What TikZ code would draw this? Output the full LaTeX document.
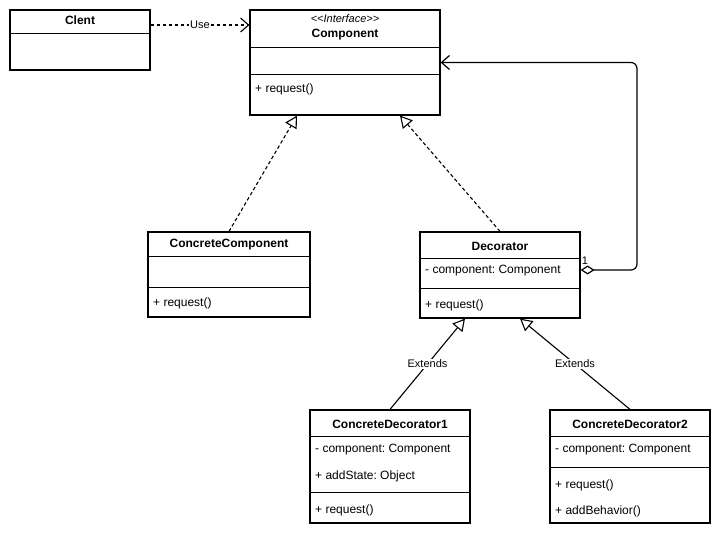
\documentclass[tikz,border=0pt]{standalone}
\usepackage{fontspec}
\setmainfont{Liberation Sans}
\usepackage{tikz}
\usetikzlibrary{arrows.meta}
\frenchspacing

\begin{document}
\begin{tikzpicture}[x=1pt, y=-1pt,
  classbox/.style={draw, line width=1.2pt, rectangle, inner sep=0pt},
  title/.style={font=\fontsize{12}{14}\selectfont\bfseries, inner sep=0pt},
  member/.style={anchor=west, font=\fontsize{12}{14}\selectfont, inner sep=0pt},
  tag/.style={font=\fontsize{11}{13}\selectfont, fill=white, inner sep=1pt},
  realize/.style={line width=1.1pt, dash pattern=on 3.5pt off 2.5pt, -{Triangle[open, fill=white, length=12pt, width=13pt]}},
  extend/.style={line width=1.1pt, -{Triangle[open, fill=white, length=12pt, width=13pt]}}]

  \useasboundingbox (0,0) rectangle (721,537);

  % Client
  \node[classbox, minimum width=140pt, minimum height=60pt] (client) at (80,40) {};
  \draw ([yshift=-24pt]client.north west) -- ([yshift=-24pt]client.north east);
  \node[title] (clientname) at (80,20) {Clent};

  % Component (interface)
  \node[classbox, minimum width=190pt, minimum height=105pt] (comp) at (345,62.5) {};
  \draw ([yshift=-38pt]comp.north west) -- ([yshift=-38pt]comp.north east);
  \draw ([yshift=-65pt]comp.north west) -- ([yshift=-65pt]comp.north east);
  \node[font=\fontsize{11}{13}\selectfont\itshape, inner sep=0pt] (compstereo) at (345,19)
    {\hbox{\textless}\hbox{\textless}Interface\hbox{\textgreater}\hbox{\textgreater}};
  \node[title] (compname) at (345,35) {Component};
  \node[member] (comprequest) at (255,89) {+ request()};

  % ConcreteComponent
  \node[classbox, minimum width=162pt, minimum height=85pt] (cc) at (229,274.5) {};
  \draw ([yshift=-25pt]cc.north west) -- ([yshift=-25pt]cc.north east);
  \draw ([yshift=-56pt]cc.north west) -- ([yshift=-56pt]cc.north east);
  \node[title] (ccname) at (229,245) {ConcreteComponent};
  \node[member] (ccrequest) at (153,303) {+ request()};

  % Decorator
  \node[classbox, minimum width=160pt, minimum height=86pt] (dec) at (500,275) {};
  \draw ([yshift=-27pt]dec.north west) -- ([yshift=-27pt]dec.north east);
  \draw ([yshift=-57pt]dec.north west) -- ([yshift=-57pt]dec.north east);
  \node[title] (decname) at (500,246) {Decorator};
  \node[member] (decfield) at (425,271) {- component: Component};
  \node[member] (decrequest) at (425,305) {+ request()};

  % ConcreteDecorator1
  \node[classbox, minimum width=160pt, minimum height=113pt] (cdone) at (390,466.5) {};
  \draw ([yshift=-27pt]cdone.north west) -- ([yshift=-27pt]cdone.north east);
  \draw ([yshift=-83pt]cdone.north west) -- ([yshift=-83pt]cdone.north east);
  \node[title] (cdonename) at (390,424) {ConcreteDecorator1};
  \node[member] (cdonefield) at (315,450) {- component: Component};
  \node[member] (cdonestate) at (315,476) {+ addState: Object};
  \node[member] (cdonerequest) at (315,510) {+ request()};

  % ConcreteDecorator2
  \node[classbox, minimum width=160pt, minimum height=113pt] (cdtwo) at (630,466.5) {};
  \draw ([yshift=-27pt]cdtwo.north west) -- ([yshift=-27pt]cdtwo.north east);
  \draw ([yshift=-58pt]cdtwo.north west) -- ([yshift=-58pt]cdtwo.north east);
  \node[title] (cdtwoname) at (630,424) {ConcreteDecorator2};
  \node[member] (cdtwofield) at (555,450) {- component: Component};
  \node[member] (cdtworequest) at (555,485) {+ request()};
  \node[member] (cdtwobehavior) at (555,511) {+ addBehavior()};

  % Client uses Component
  \draw[line width=1.1pt, dash pattern=on 3.5pt off 2.5pt, -{Straight Barb[length=8pt, width=14pt]}]
    ([yshift=15pt]client.east) -- node[tag] {Use} ([yshift=37.5pt]comp.west);

  % Realizations
  \draw[realize] (cc.north) -- ([xshift=-48pt]comp.south);
  \draw[realize] (dec.north) -- ([xshift=55pt]comp.south);

  % Aggregation back to Component
  \coordinate (loop) at (637,62.5);
  \draw[line width=1.2pt, rounded corners=6pt, {Diamond[open, fill=white, length=14pt, width=9pt]}-{Straight Barb[length=8pt, width=14pt]}]
    ([yshift=5pt]dec.east) -| (loop) -- (comp.east);
  \node[font=\fontsize{11}{13}\selectfont, inner sep=0pt] (mult) at (585,261) {1};

  % Extends
  \draw[extend] (cdone.north) -- node[tag] {Extends} ([xshift=-35pt]dec.south);
  \draw[extend] (cdtwo.north) -- node[tag] {Extends} ([xshift=20pt]dec.south);
\end{tikzpicture}
\end{document}
